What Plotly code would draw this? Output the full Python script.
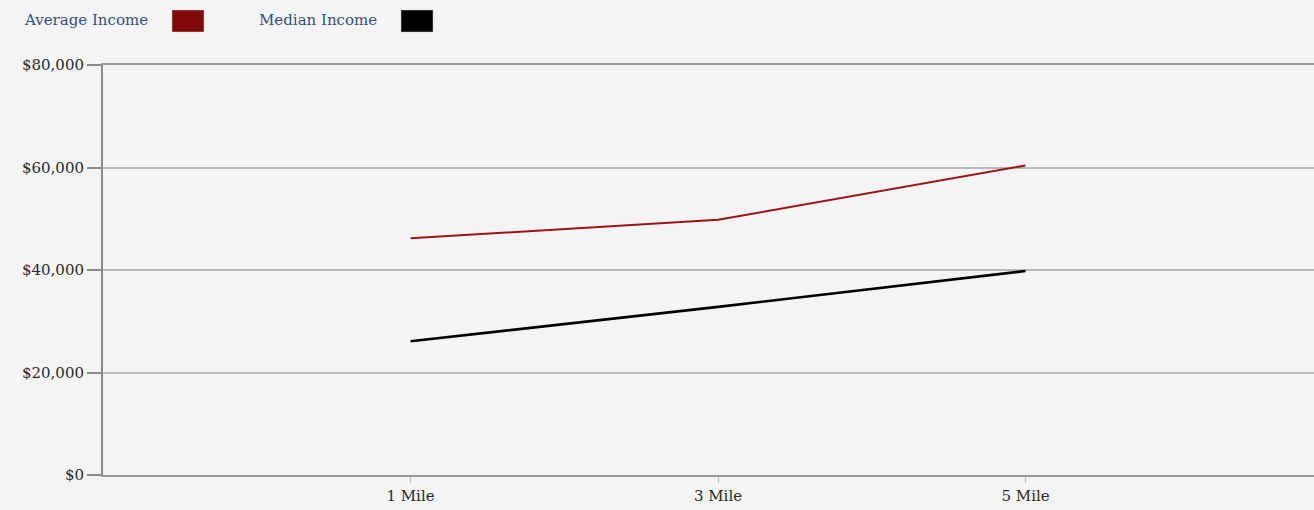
import plotly.graph_objects as go

# ---- data ----
categories = ["1 Mile", "3 Mile", "5 Mile"]
average_income = [46200, 49800, 60400]
median_income = [26100, 32800, 39800]
y_tick_values = [0, 20000, 40000, 60000, 80000]
y_tick_labels = ["$0", "$20,000", "$40,000", "$60,000", "$80,000"]
series_names = ["Average Income", "Median Income"]
series_colors = ["#9e1414", "#000000"]
swatch_colors = ["#7f0a08", "#000000"]

W, H = 1314, 510
ML, MR, MT, MB = 103, 0, 65, 35
PW, PH = W - ML - MR, H - MT - MB

def px_x(px):
    return (px - ML) / PW

def px_y(py):
    return (H - MB - py) / PH

FONT = "DejaVu Serif"

fig = go.Figure()
for name, vals, col, w in zip(series_names, [average_income, median_income], series_colors, [2, 2.6]):
    fig.add_trace(go.Scatter(x=categories, y=vals, mode="lines", name=name,
                             line=dict(color=col, width=w), showlegend=False))

# custom legend: text then swatch
legend_text_x = [22, 257]
swatch_x = [172, 401]
annotations = []
shapes = []
for name, tx, sx, sc in zip(series_names, legend_text_x, swatch_x, swatch_colors):
    annotations.append(dict(text=name, xref="paper", yref="paper", x=px_x(tx), y=px_y(20),
                            xanchor="left", yanchor="middle", showarrow=False,
                            font=dict(family=FONT, size=15, color="#34507f")))
    shapes.append(dict(type="rect", xref="paper", yref="paper",
                       x0=px_x(sx), x1=px_x(sx + 32), y0=px_y(32), y1=px_y(10),
                       fillcolor=sc, line=dict(color="#cccccc", width=0.5)))

fig.update_layout(
    width=W, height=H,
    margin=dict(l=ML, r=MR, t=MT, b=MB, pad=0),
    paper_bgcolor="#f4f4f4", plot_bgcolor="#f4f4f4",
    annotations=annotations, shapes=shapes,
    font=dict(family=FONT, size=15, color="#2a2a2a"),
    xaxis=dict(type="category", range=[-1, 2.938], showgrid=False, zeroline=False,
               showline=True, linecolor="#9a9a9a", linewidth=2, mirror=True,
               ticks="outside", ticklen=6, tickcolor="#bbbbbb", tickwidth=1,
               tickfont=dict(family=FONT, size=15, color="#2a2a2a")),
    yaxis=dict(range=[0, 80000], tickvals=y_tick_values, ticktext=y_tick_labels,
               showgrid=True, gridcolor="#b9b9b9", gridwidth=2, zeroline=False,
               showline=True, linecolor="#8c8c8c", linewidth=2,
               ticks="outside", ticklen=14, tickcolor="#8c8c8c", tickwidth=2,
               tickfont=dict(family=FONT, size=15, color="#2a2a2a")),
)

fig.write_html("out.html")
